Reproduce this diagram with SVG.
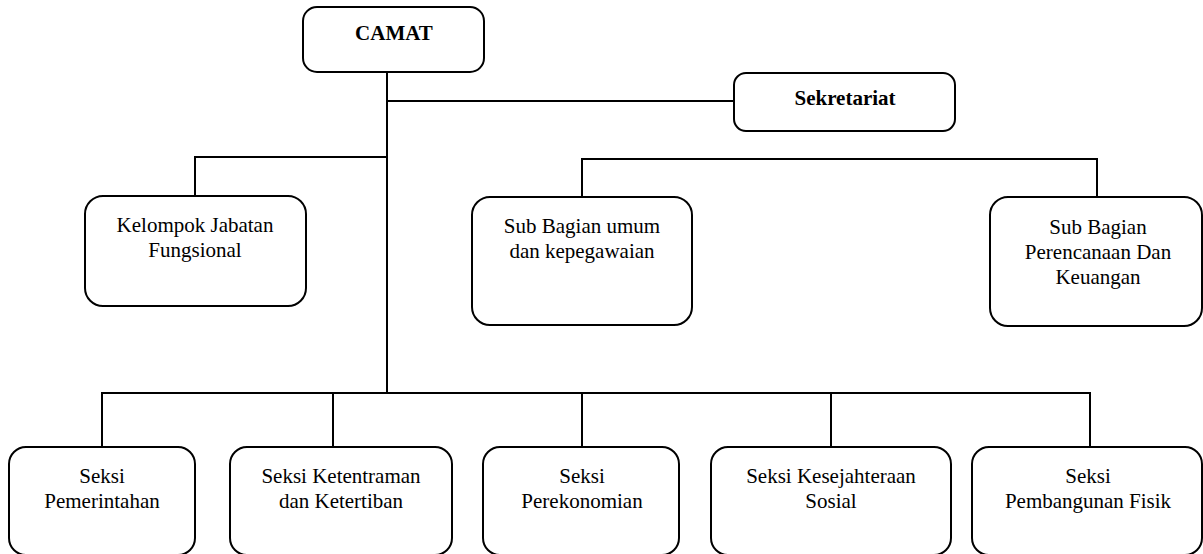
<svg xmlns="http://www.w3.org/2000/svg" width="1203" height="554" viewBox="0 0 1203 554">
<style>
.box{fill:#fff;stroke:#000;stroke-width:2}
.ln{fill:none;stroke:#000;stroke-width:2}
.b{font-weight:bold}
</style>
<rect width="1203" height="554" fill="#fff"/>
<g id="connectors">
<path class="ln" d="M387,72 V393"/>
<path class="ln" d="M387,101 H734"/>
<path class="ln" d="M387,157 H195 V196"/>
<path class="ln" d="M582,197 V159 H1097 V197"/>
<path class="ln" d="M102,447 V393 H1090 V447"/>
<path class="ln" d="M333,393 V447 M582,393 V447 M831,393 V447"/>
</g>
<g font-family="Liberation Serif, Times New Roman, serif" font-size="21" fill="#000" text-anchor="middle">
<g id="camat"><rect class="box" x="303" y="7" width="181" height="65" rx="14"/><text class="b" x="394" y="40">CAMAT</text></g>
<g id="sekretariat"><rect class="box" x="734" y="73" width="221" height="58" rx="12"/><text class="b" x="845" y="105">Sekretariat</text></g>
<g id="kelompok"><rect class="box" x="85" y="196" width="221" height="110" rx="18"/><text x="195" y="232">Kelompok Jabatan</text><text x="195" y="257">Fungsional</text></g>
<g id="subumum"><rect class="box" x="472" y="197" width="220" height="128" rx="18"/><text x="582" y="233">Sub Bagian umum</text><text x="582" y="258">dan kepegawaian</text></g>
<g id="subperencanaan"><rect class="box" x="990" y="197" width="212" height="129" rx="18"/><text x="1098" y="234">Sub Bagian</text><text x="1098" y="259">Perencanaan Dan</text><text x="1098" y="284">Keuangan</text></g>
<g id="seksi1"><rect class="box" x="9" y="447" width="186" height="108" rx="17"/><text x="102" y="483">Seksi</text><text x="102" y="508">Pemerintahan</text></g>
<g id="seksi2"><rect class="box" x="230" y="447" width="222" height="108" rx="17"/><text x="341" y="483">Seksi Ketentraman</text><text x="341" y="508">dan Ketertiban</text></g>
<g id="seksi3"><rect class="box" x="483" y="447" width="196" height="108" rx="17"/><text x="582" y="483">Seksi</text><text x="582" y="508">Perekonomian</text></g>
<g id="seksi4"><rect class="box" x="711" y="447" width="240" height="108" rx="17"/><text x="831" y="483">Seksi Kesejahteraan</text><text x="831" y="508">Sosial</text></g>
<g id="seksi5"><rect class="box" x="972" y="447" width="230" height="108" rx="17"/><text x="1088" y="483">Seksi</text><text x="1088" y="508">Pembangunan Fisik</text></g>
</g>
</svg>
